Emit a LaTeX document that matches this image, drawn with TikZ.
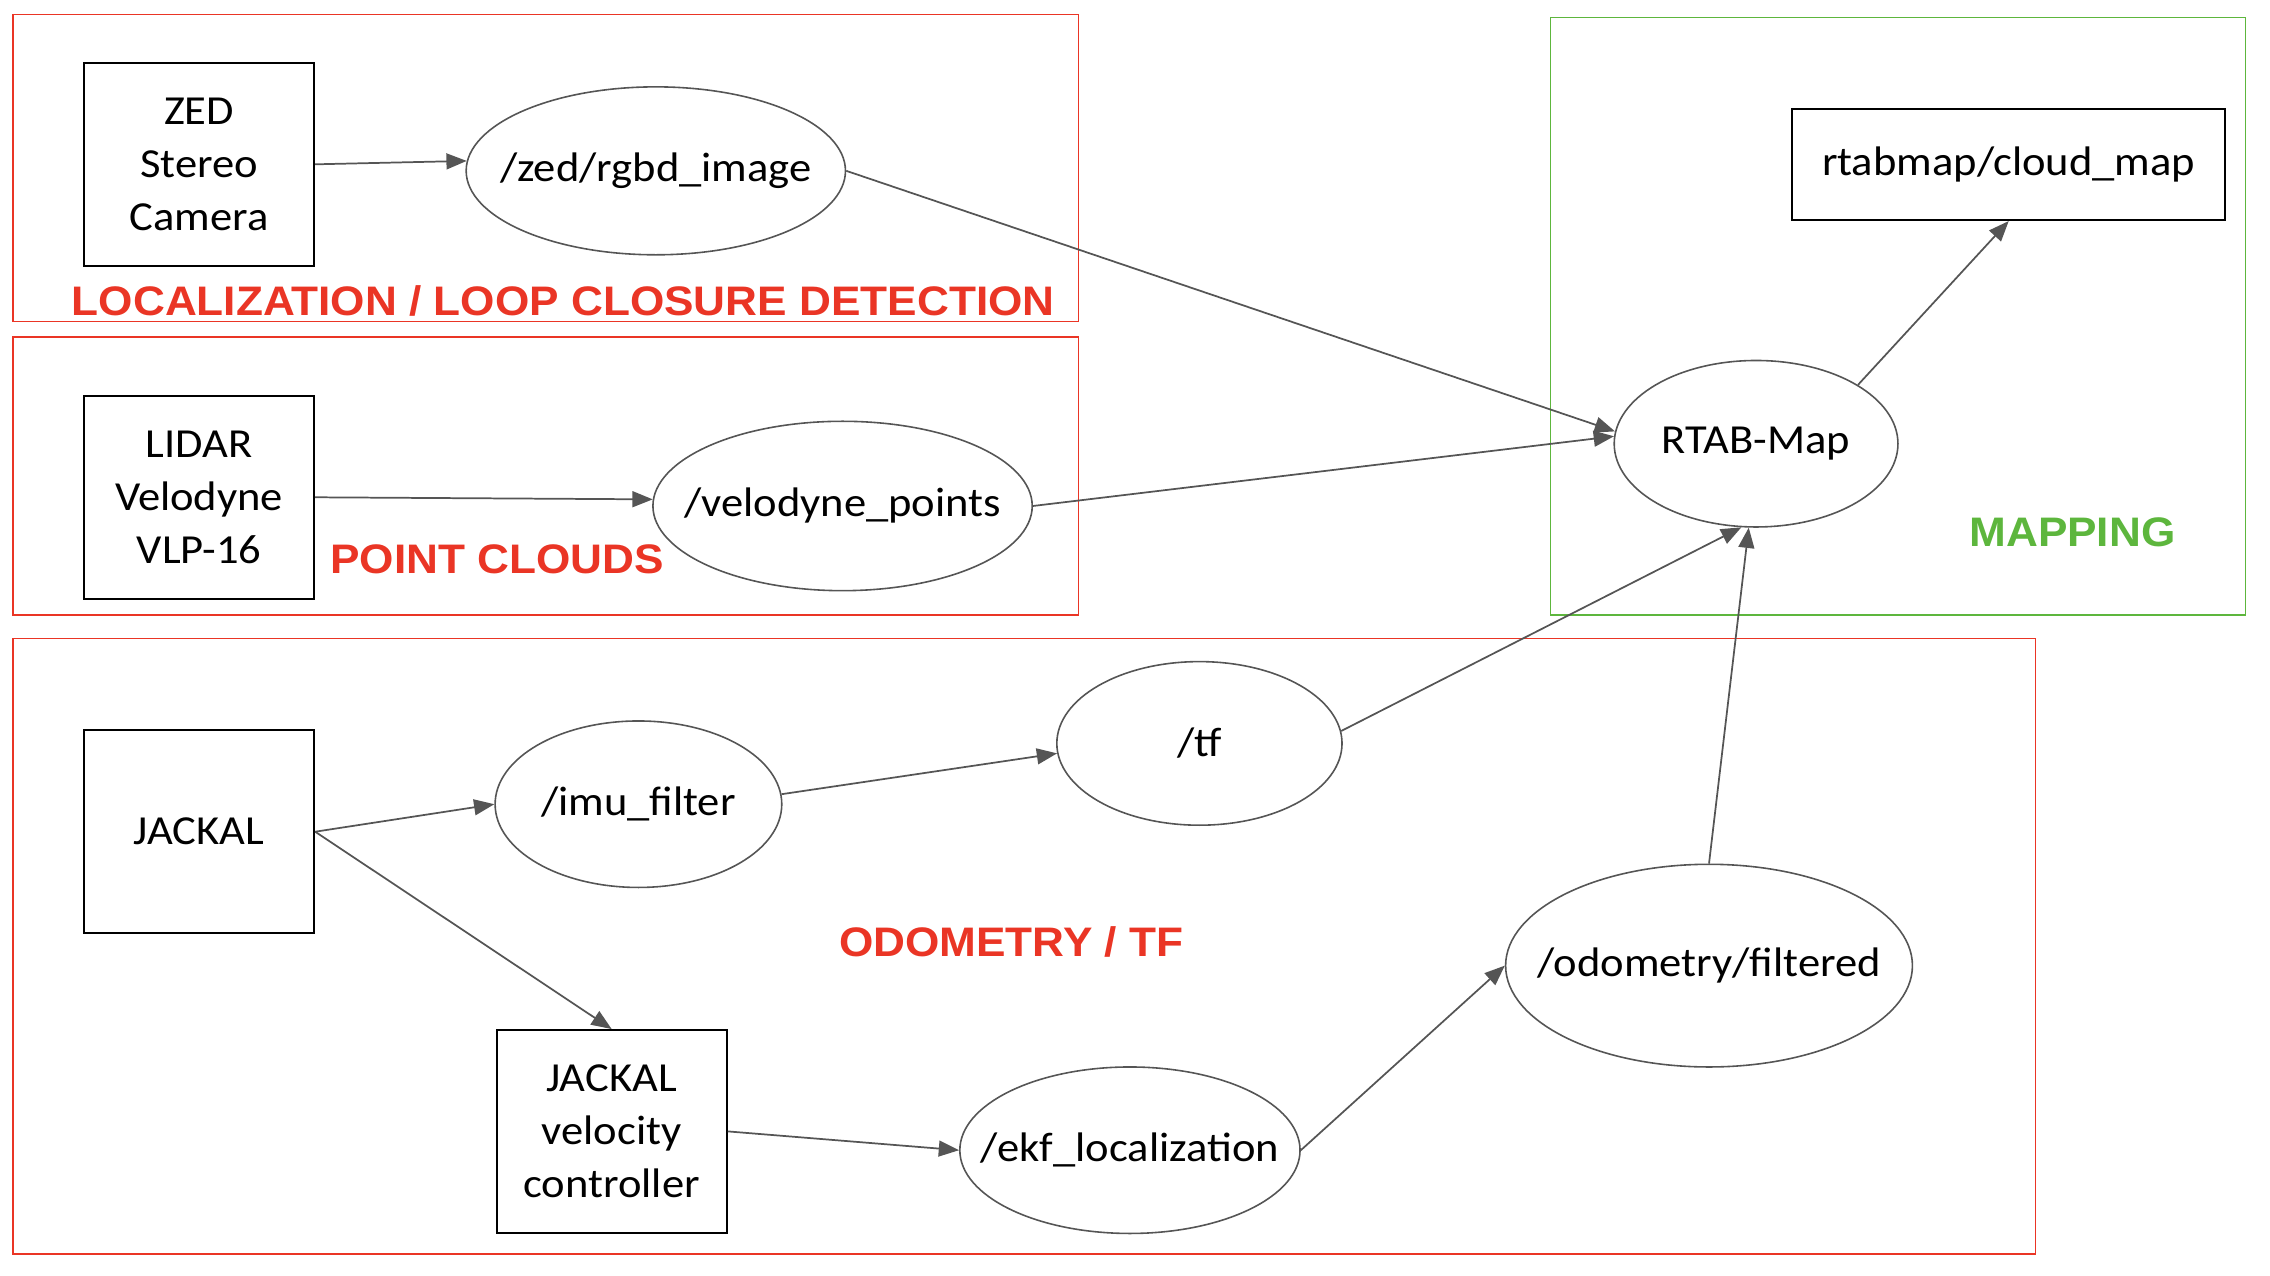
\documentclass[tikz,border=0pt]{standalone}
\usepackage{fontspec}
\setmainfont[FakeStretch=1.08]{Carlito}
\newfontfamily\labelfont[FakeStretch=1.07]{Liberation Sans}
\usetikzlibrary{arrows.meta,shapes.geometric}
\definecolor{framered}{RGB}{234,53,37}
\definecolor{framegreen}{RGB}{93,182,61}
\definecolor{linegray}{RGB}{85,85,85}
\newcommand{\topictext}[1]{\makebox[0pt][c]{#1}}
\tikzset{
	box/.style={draw=black, line width=1.4pt, minimum width=159pt, minimum height=140pt, inner sep=0pt, align=center},
	topic/.style={ellipse, draw=linegray, line width=1.1pt, inner sep=0pt},
	arr/.style={draw=linegray, line width=1.2pt, -{Triangle[length=14pt,width=11pt]}, fill=linegray},
	redframe/.style={draw=framered, line width=1.2pt},
	greenframe/.style={draw=framegreen, line width=1.2pt},
	grouplabel/.style={anchor=base, font=\labelfont\bfseries\fontsize{28.5}{34}\selectfont}
}

\begin{document}
\begin{tikzpicture}[x=1pt, y=-1pt, font=\fontsize{28.5}{36.5}\selectfont]
		%%%%% START %%%%%
		\useasboundingbox (0, 0) rectangle (1568, 881);
		
		\draw[redframe] (9, 10) rectangle (745, 222);
		\draw[redframe] (9, 233) rectangle (745, 425);
		\draw[redframe] (9, 441) rectangle (1406, 866);
		\draw[greenframe] (1071, 12) rectangle (1551, 425);
		
		\node[grouplabel, color=framered] at (389, 217.6) {LOCALIZATION / LOOP CLOSURE DETECTION};
		\node[grouplabel, color=framered] at (343.5, 396) {POINT CLOUDS};
		\node[grouplabel, color=framered] at (698.5, 661) {ODOMETRY / TF};
		\node[grouplabel, color=framegreen] at (1431.5, 377.6) {MAPPING};
		
		\node[box] (zed) at (137.5, 113.5) {ZED\\Stereo\\Camera};
		\node[box] (lidar) at (137.5, 343.5) {LIDAR\\Velodyne\\VLP-16};
		\node[box] (jackal) at (137.5, 574.5) {JACKAL};
		\node[box] (velctl) at (422.5, 781.5) {JACKAL\\velocity\\controller};
		\node[box, minimum width=299pt, minimum height=77pt] (cloudmap) at (1387.5, 113.5) {rtabmap/cloud\_map};
		
		\node[topic, minimum width=262pt, minimum height=116pt] (rgbd) at (453, 118) {\topictext{/zed/rgbd\_image}};
		\node[topic, minimum width=262pt, minimum height=117pt] (velo) at (582, 349.5) {\topictext{/velodyne\_points}};
		\node[topic, minimum width=196pt, minimum height=115pt] (rtab) at (1213, 306.5) {\topictext{RTAB-Map}};
		\node[topic, minimum width=198pt, minimum height=115pt] (imu) at (441, 555.5) {\topictext{/imu\_filter}};
		\node[topic, minimum width=197pt, minimum height=113pt] (tf) at (828.5, 513.5) {\topictext{/tf}};
		\node[topic, minimum width=235pt, minimum height=115pt] (ekf) at (780.5, 794.5) {\topictext{/ekf\_localization}};
		\node[topic, minimum width=281pt, minimum height=140pt] (odom) at (1180.5, 667) {\topictext{/odometry/filtered}};
		
		\draw[arr] (zed.east) -- (rgbd.177);
		\draw[arr] (lidar.east) -- (velo.178);
		\draw[arr] (rgbd.east) -- (rtab.175);
		\draw[arr] (velo.east) -- (rtab.177);
		\draw[arr] (rtab.30) -- (cloudmap.south);
		
		\draw[arr] (jackal.east) -- (imu.west);
		\draw[arr] (jackal.east) -- (velctl.north);
		\draw[arr] (imu.4) -- (tf.184);
		\draw[arr] (tf.5) -- (rtab.-100);
		\draw[arr] (velctl.east) -- (ekf.west);
		\draw[arr] (ekf.east) -- (odom.west);
		\draw[arr] (odom.north) -- (rtab.-95);
		
		%%%%% END %%%%%
	\end{tikzpicture}
\end{document}
